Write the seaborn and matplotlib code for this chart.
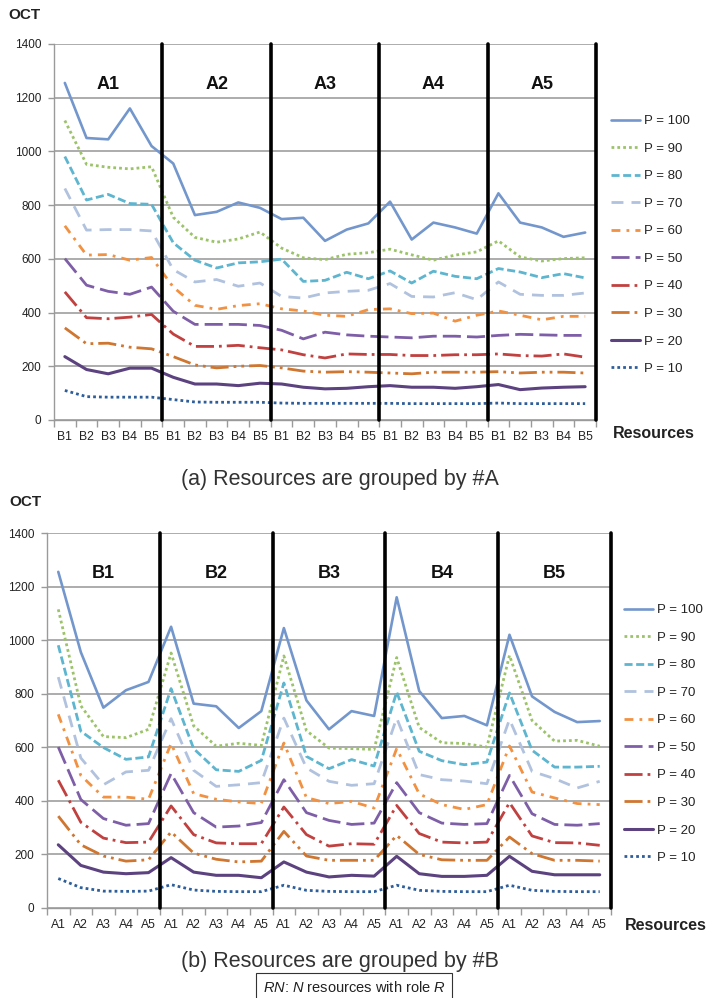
import numpy as np
import pandas as pd
import matplotlib
matplotlib.use("Agg")
import matplotlib.pyplot as plt
import seaborn as sns
from matplotlib.lines import Line2D

# ---- data: OCT per resource configuration, ordered A1(B1..B5), A2(B1..B5), ...
groups_a = ["A1", "A2", "A3", "A4", "A5"]
groups_b = ["B1", "B2", "B3", "B4", "B5"]
p_levels = [100, 90, 80, 70, 60, 50, 40, 30, 20, 10]

oct_p100 = [1255, 1050, 1045, 1160, 1020, 955, 763, 775, 810, 790, 748, 753, 667, 709, 732,
            813, 672, 735, 717, 694, 844, 735, 717, 682, 698]
oct_p90 = [1115, 952, 941, 935, 943, 755, 680, 662, 674, 700, 640, 604, 597, 617, 623,
           636, 615, 595, 614, 626, 667, 607, 592, 601, 604]
oct_p80 = [981, 819, 840, 806, 803, 660, 595, 566, 585, 589, 599, 516, 520, 550, 526,
           555, 510, 554, 535, 526, 564, 551, 530, 545, 529]
oct_p70 = [862, 707, 709, 709, 704, 560, 514, 523, 498, 510, 460, 454, 473, 479, 483,
           508, 460, 458, 474, 448, 514, 468, 464, 464, 473]
oct_p60 = [723, 614, 616, 595, 605, 495, 427, 412, 426, 433, 414, 406, 390, 386, 411,
           414, 396, 398, 368, 390, 406, 390, 373, 386, 386]
oct_p50 = [601, 502, 479, 468, 495, 405, 356, 356, 356, 352, 334, 302, 327, 317, 312,
           309, 306, 312, 312, 309, 315, 319, 317, 315, 315]
oct_p40 = [477, 381, 377, 383, 393, 320, 274, 274, 278, 269, 261, 243, 231, 246, 244,
           244, 240, 240, 243, 243, 246, 240, 238, 246, 234]
oct_p30 = [343, 284, 286, 271, 265, 236, 205, 194, 200, 203, 194, 182, 178, 180, 178,
           175, 172, 178, 178, 178, 180, 175, 178, 178, 175]
oct_p20 = [236, 188, 172, 193, 193, 159, 134, 134, 128, 137, 134, 122, 116, 118, 124,
           128, 122, 122, 118, 124, 132, 113, 119, 122, 124]
oct_p10 = [110, 87, 85, 85, 85, 76, 67, 66, 66, 66, 63, 62, 62, 62, 62,
           62, 61, 61, 61, 61, 63, 61, 61, 61, 61]

series = dict(zip(p_levels, [oct_p100, oct_p90, oct_p80, oct_p70, oct_p60,
                             oct_p50, oct_p40, oct_p30, oct_p20, oct_p10]))

# ---- line styles (Excel-like palette)
colors = {100: "#7397cc", 90: "#9cc369", 80: "#5db5cf", 70: "#b1c2de", 60: "#f19141",
          50: "#7e5fa7", 40: "#c0413f", 30: "#cf7630", 20: "#5c4380", 10: "#2e5e9a"}
styles = {100: "-", 90: (0, (1, 1.1)), 80: (0, (2.9, 1.3)), 70: (0, (4.3, 2.9)),
          60: (0, (3.2, 2.2, 1, 2.2)), 50: (0, (6.5, 2.2)), 40: (0, (6.5, 1.8, 1, 1.8)),
          30: (0, (6.5, 1.8, 1, 1.8, 1, 1.8)), 20: "-", 10: (0, (1, 1.1))}
widths = {p: 2.0 for p in p_levels}
widths[100] = 1.9
widths[20] = 2.2

sns.set_theme(style="white")
plt.rcParams["font.family"] = ["Liberation Sans", "DejaVu Sans"]
plt.rcParams["mathtext.fontset"] = "custom"
plt.rcParams["mathtext.it"] = "Liberation Sans:italic"
plt.rcParams["mathtext.rm"] = "Liberation Sans"

fig = plt.figure(figsize=(7.13, 9.98), dpi=100)
W, H = 713, 998


def px_axes(left, top, right, bottom):
    return fig.add_axes([left / W, 1 - bottom / H, (right - left) / W, (bottom - top) / H])


def draw_panel(ax, outer, inner, transpose):
    rows = []
    for p in p_levels:
        vals = np.array(series[p])
        if transpose:
            vals = vals.reshape(5, 5).T.ravel()
        for i, v in enumerate(vals):
            rows.append({"pos": i, "OCT": v, "P": p})
    df = pd.DataFrame(rows)
    for p in p_levels:
        sns.lineplot(data=df[df["P"] == p], x="pos", y="OCT", ax=ax, color=colors[p],
                     linestyle=styles[p], linewidth=widths[p], legend=False, sort=False)

    ax.set_xlim(-0.5, 24.5)
    ax.set_ylim(0, 1400)
    ax.set_yticks(np.arange(0, 1401, 200))
    ax.yaxis.grid(True, color="#a6a6a6", linewidth=1.3)
    ax.set_axisbelow(True)
    for s in ("top", "right"):
        ax.spines[s].set_visible(False)
    for s in ("left", "bottom"):
        ax.spines[s].set_color("#9a9a9a")
        ax.spines[s].set_linewidth(1.0)
    ax.set_xticks(range(25))
    ax.set_xticklabels(inner * 5)
    ax.set_xticks(np.arange(-0.5, 25, 1), minor=True)
    ax.tick_params(axis="x", which="major", length=0, pad=8, labelsize=8.8, labelcolor="#222222")
    ax.tick_params(axis="x", which="minor", length=5, color="#9a9a9a", width=1, direction="out",
                   bottom=True)
    ax.tick_params(axis="y", length=4, color="#9a9a9a", width=1, direction="out", left=True,
                   pad=5, labelsize=8.5, labelcolor="#222222")
    ax.set_xlabel("")
    ax.set_ylabel("")
    for k in range(5):
        ax.axvline(4.5 + 5 * k, color="black", linewidth=2.6, clip_on=False, zorder=5)
        ax.text(2 + 5 * k, 1250, outer[k], ha="center", va="center", fontsize=13,
                fontweight="bold", color="#111111")


ax_top = px_axes(54, 44, 596, 420)
draw_panel(ax_top, groups_a, groups_b, transpose=False)
ax_bot = px_axes(47, 533, 611, 908)
draw_panel(ax_bot, groups_b, groups_a, transpose=True)

handles = [Line2D([], [], color=colors[p], linestyle=styles[p], linewidth=widths[p])
           for p in p_levels]
labels = [f"P = {p}" for p in p_levels]
for ax, x0, y0 in ((ax_top, 611, 115), (ax_bot, 624, 604)):
    ax.legend(handles, labels, loc="upper left", bbox_to_anchor=(x0 / W, 1 - y0 / H),
              bbox_transform=fig.transFigure, frameon=False, fontsize=9.5,
              handlelength=2.2, handletextpad=0.3, labelspacing=1.16, borderaxespad=0,
              borderpad=0, labelcolor="#222222")

fig.text(24 / W, 1 - 15 / H, "OCT", ha="center", va="center", fontsize=11, fontweight="bold",
         color="#222222")
fig.text(25 / W, 1 - 502 / H, "OCT", ha="center", va="center", fontsize=11, fontweight="bold",
         color="#222222")
fig.text(654 / W, 1 - 433 / H, "Resources", ha="center", va="center", fontsize=11.5,
         fontweight="bold", color="#222222")
fig.text(666 / W, 1 - 926 / H, "Resources", ha="center", va="center", fontsize=11.5,
         fontweight="bold", color="#222222")
fig.text(340 / W, 1 - 479 / H, "(a) Resources are grouped by #A", ha="center", va="center",
         fontsize=15.5, color="#333333")
fig.text(340 / W, 1 - 962 / H, "(b) Resources are grouped by #B", ha="center", va="center",
         fontsize=15.5, color="#333333")
fig.text(354 / W, 1 - 987 / H, r"$RN$: $N$ resources with role $R$", ha="center",
         va="center", fontsize=10.5, color="#222222",
         bbox=dict(boxstyle="square,pad=0.45", facecolor="white", edgecolor="#333333",
                   linewidth=0.8))

fig.savefig("out.png", dpi=100)
